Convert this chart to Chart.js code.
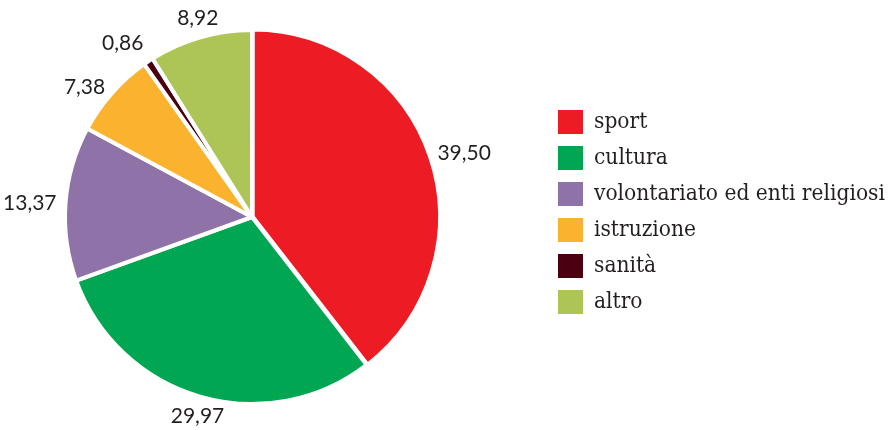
<!DOCTYPE html>
<html>
<head>
<meta charset="utf-8">
<script src="https://cdn.jsdelivr.net/npm/chart.js@4/dist/chart.umd.min.js"></script>
<style>
  html, body { margin: 0; padding: 0; background: #fff; }
  #wrap { width: 888px; height: 430px; }
</style>
</head>
<body>
<div id="wrap"><canvas id="torta" width="888" height="430"></canvas></div>
<script>
// Ripartizione percentuale per settore
const categorie = ["sport", "cultura", "volontariato ed enti religiosi", "istruzione", "sanità", "altro"];
const valori = [39.50, 29.97, 13.37, 7.38, 0.86, 8.92];
const colori = ["#ed1c24", "#00a651", "#8f73a8", "#fbb22e", "#4b000f", "#adc456"];

const coloreTesto = "#231f20";

// etichette con il valore accanto a ogni fetta
const etichettePlugin = {
    id: "etichette",
    afterDatasetsDraw(chart) {
        const ctx = chart.ctx;
        const arcs = chart.getDatasetMeta(0).data;
        ctx.save();
        ctx.font = "21px Lato";
        ctx.fillStyle = coloreTesto;
        arcs.forEach((arc, i) => {
            const p = arc.getProps(["x", "y", "startAngle", "endAngle", "outerRadius"], true);
            const a = (p.startAngle + p.endAngle) / 2;
            const r = p.outerRadius + 9;
            const c = Math.cos(a), s = Math.sin(a);
            const testo = valori[i].toFixed(2).replace(".", ",");
            ctx.textAlign = c > 0.3 ? "left" : (c < -0.3 ? "right" : "center");
            ctx.textBaseline = s > 0.7 ? "top" : (s < -0.7 ? "bottom" : "middle");
            let x = p.x + r * c;
            // non uscire dal bordo sinistro
            if (ctx.textAlign === "right") {
                x = Math.max(x, ctx.measureText(testo).width + 3);
            }
            ctx.fillText(testo, x, p.y + r * s);
        });
        ctx.restore();
    }
};

// legenda a destra del grafico
const legendaPlugin = {
    id: "legenda",
    afterDraw(chart) {
        const ctx = chart.ctx;
        const x0 = 558, y0 = 110, passo = 36;
        ctx.save();
        ctx.font = "22.5px 'DejaVu Serif Condensed'";
        ctx.textAlign = "left";
        ctx.textBaseline = "middle";
        categorie.forEach((nome, i) => {
            const y = y0 + i * passo;
            ctx.fillStyle = colori[i];
            ctx.fillRect(x0, y, 25, 24);
            ctx.fillStyle = coloreTesto;
            ctx.fillText(nome, x0 + 36, y + 12);
        });
        ctx.restore();
    }
};

new Chart(document.getElementById("torta"), {
    type: "pie",
    data: {
        labels: categorie,
        datasets: [{
            data: valori,
            backgroundColor: colori,
            borderColor: "#fff",
            borderWidth: 4,
            offset: [3, 0, 0, 0, 0, 0]
        }]
    },
    options: {
        responsive: false,
        animation: false,
        radius: 187,
        layout: { padding: { left: 0, right: 384, top: 4, bottom: 0 } },
        plugins: {
            legend: { display: false },
            tooltip: { enabled: false }
        }
    },
    plugins: [etichettePlugin, legendaPlugin]
});
</script>
</body>
</html>
